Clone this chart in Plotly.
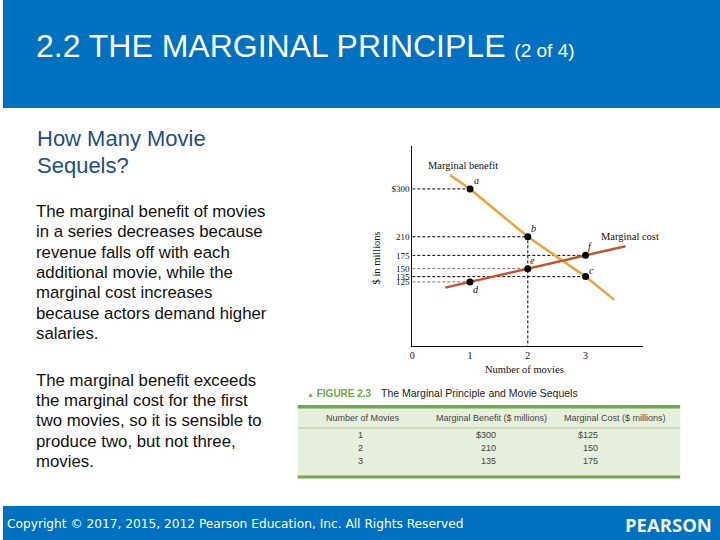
import plotly.graph_objects as go
import numpy as np

# ---------------- data ----------------
movies = [1, 2, 3]
marginal_benefit = [300, 210, 135]
marginal_cost = [125, 150, 175]
mb_point_labels = ["a", "b", "c"]
mc_point_labels = ["d", "e", "f"]
mb_line_extent = [0.655, 3.5]
mc_line_extent = [0.57, 3.69]
y_tick_values = [125, 135, 150, 175, 210, 300]
y_tick_text = ["125", "135", "150", "175", "210", "$300"]
x_tick_values = [0, 1, 2, 3]
x_tick_text = ["0", "1", "2", "3"]

table_header = ["Number of Movies", "Marginal Benefit ($ millions)", "Marginal Cost ($ millions)"]
table_movies = ["1", "2", "3"]
table_mb = ["$300", "210", "135"]
table_mc = ["$125", "150", "175"]

title_main = "2.2 THE MARGINAL PRINCIPLE"
title_sub = "(2 of 4)"
heading_lines = ["How Many Movie", "Sequels?"]
para1_lines = ["The marginal benefit of movies", "in a series decreases because",
               "revenue falls off with each", "additional movie, while the",
               "marginal cost increases", "because actors demand higher", "salaries."]
para2_lines = ["The marginal benefit exceeds", "the marginal cost for the first",
               "two movies, so it is sensible to", "produce two, but not three,",
               "movies."]
footer_text = "Copyright © 2017, 2015, 2012 Pearson Education, Inc. All Rights Reserved"
brand_text = "PEARSON"

# ---------------- helpers ----------------
W, H = 720, 540
def px(x):
    return x / W
def py(y):
    return 1 - y / H

BLUE = "#0070C0"
MB_COLOR = "#E9A53A"
MC_COLOR = "#C2552D"
GREEN = "#6FA84C"
SERIF = "Liberation Serif, Times New Roman, serif"
SANS = "Liberation Sans, Arial, sans-serif"

fig = go.Figure()

# dashed guide lines (horizontal from axis to each point; vertical at b)
guide_color = {"a": "#000", "b": "#000", "c": "#000", "d": "#777", "e": "#777", "f": "#000"}
for xs, ys, labs in [(movies, marginal_benefit, mb_point_labels), (movies, marginal_cost, mc_point_labels)]:
    for xv, yv, lab in zip(xs, ys, labs):
        fig.add_trace(go.Scatter(x=[0, xv], y=[yv, yv], mode="lines",
                                 line=dict(color=guide_color[lab], width=1, dash="3px,2px"),
                                 hoverinfo="skip", showlegend=False))
fig.add_trace(go.Scatter(x=[movies[1], movies[1]], y=[0, marginal_benefit[1]], mode="lines",
                         line=dict(color="#000", width=1, dash="3px,2px"),
                         hoverinfo="skip", showlegend=False))

# curves: extend through the points using a linear fit for the ends
def curve(xs, ys, ext):
    k, b = np.polyfit(xs, ys, 1)
    cx = [ext[0]] + list(xs) + [ext[1]]
    cy = [k * ext[0] + b] + list(ys) + [k * ext[1] + b]
    return cx, cy

mbx, mby = curve(movies, marginal_benefit, mb_line_extent)
mcx, mcy = curve(movies, marginal_cost, mc_line_extent)
fig.add_trace(go.Scatter(x=mbx, y=mby, mode="lines", line=dict(color=MB_COLOR, width=2.5),
                         showlegend=False, hoverinfo="skip"))
fig.add_trace(go.Scatter(x=mcx, y=mcy, mode="lines", line=dict(color=MC_COLOR, width=2.5),
                         showlegend=False, hoverinfo="skip"))
fig.add_trace(go.Scatter(x=movies + movies, y=marginal_benefit + marginal_cost, mode="markers",
                         marker=dict(color="black", size=7), showlegend=False, hoverinfo="skip"))

# point labels
offsets = {"a": (6, 8), "b": (6, 8), "c": (6, 6), "d": (6, -8), "e": (5, 8), "f": (4, 9)}
for xs, ys, labs in [(movies, marginal_benefit, mb_point_labels), (movies, marginal_cost, mc_point_labels)]:
    for xv, yv, lab in zip(xs, ys, labs):
        dx, dy = offsets[lab]
        fig.add_annotation(x=xv, y=yv, xref="x", yref="y", text="<i>%s</i>" % lab,
                           showarrow=False, xshift=dx, yshift=dy,
                           font=dict(family=SERIF, size=10, color="#111"))

# curve labels
fig.add_annotation(x=px(425), y=py(166), xref="paper", yref="paper", text="Marginal benefit",
                   showarrow=False, xanchor="left", yanchor="middle",
                   font=dict(family=SERIF, size=10.5, color="#111"))
fig.add_annotation(x=px(598), y=py(236), xref="paper", yref="paper", text="Marginal cost",
                   showarrow=False, xanchor="left", yanchor="middle",
                   font=dict(family=SERIF, size=10.5, color="#111"))
fig.add_annotation(x=px(524), y=py(369), xref="paper", yref="paper", text="Number of movies",
                   showarrow=False, xanchor="center", yanchor="middle",
                   font=dict(family=SERIF, size=10.5, color="#111"))
fig.add_annotation(x=px(375), y=py(258), xref="paper", yref="paper", text="$ in millions",
                   showarrow=False, textangle=-90, xanchor="center", yanchor="middle",
                   font=dict(family=SERIF, size=10.5, color="#111"))

fig.update_layout(
    xaxis=dict(domain=[px(411), px(643)], range=[0, 4.0], tickvals=x_tick_values, ticktext=x_tick_text,
               showgrid=False, zeroline=False, showline=True, linecolor="#111", linewidth=1,
               ticks="", tickfont=dict(family=SERIF, size=10, color="#111"), fixedrange=True),
    yaxis=dict(domain=[py(345.7), py(146.4)], range=[5, 380], tickvals=y_tick_values, ticktext=y_tick_text,
               showgrid=False, zeroline=False, showline=True, linecolor="#111", linewidth=1,
               ticks="", tickfont=dict(family=SERIF, size=9, color="#111"), fixedrange=True),
)

# ---------------- slide frame ----------------
shapes = []
shapes.append(dict(type="rect", xref="paper", yref="paper", x0=0, x1=1, y0=py(108), y1=1,
                   fillcolor=BLUE, line=dict(width=0), layer="below"))
shapes.append(dict(type="rect", xref="paper", yref="paper", x0=0, x1=1, y0=0, y1=py(506),
                   fillcolor=BLUE, line=dict(width=0), layer="below"))

# table shapes
tx0, tx1 = px(296), px(680)
shapes.append(dict(type="rect", xref="paper", yref="paper", x0=tx0, x1=tx1, y0=py(476), y1=py(408),
                   fillcolor="#E6EEDC", line=dict(width=0), layer="below"))
shapes.append(dict(type="rect", xref="paper", yref="paper", x0=tx0, x1=tx1, y0=py(408.5), y1=py(405),
                   fillcolor=GREEN, line=dict(width=0)))
shapes.append(dict(type="rect", xref="paper", yref="paper", x0=tx0, x1=tx1, y0=py(478.5), y1=py(475.5),
                   fillcolor=GREEN, line=dict(width=0)))
shapes.append(dict(type="line", xref="paper", yref="paper", x0=tx0, x1=tx1, y0=py(428), y1=py(428),
                   line=dict(color="#B9C9A8", width=1)))
fig.update_layout(shapes=shapes)

# title
fig.add_annotation(x=px(31), y=py(46), xref="paper", yref="paper",
                   text=title_main + " <span style='font-size:19px'>" + title_sub + "</span>",
                   showarrow=False, xanchor="left", yanchor="middle",
                   font=dict(family=SANS, size=32, color="white"))

# left column text
for i, line in enumerate(heading_lines):
    fig.add_annotation(x=px(32), y=py(138 + 27 * i), xref="paper", yref="paper", text=line,
                       showarrow=False, xanchor="left", yanchor="middle",
                       font=dict(family=SANS, size=22, color="#234F7C"))
for i, line in enumerate(para1_lines):
    fig.add_annotation(x=px(31.5), y=py(211.5 + 20.3 * i), xref="paper", yref="paper", text=line,
                       showarrow=False, xanchor="left", yanchor="middle",
                       font=dict(family=SANS, size=16.8, color="#111"))
for i, line in enumerate(para2_lines):
    fig.add_annotation(x=px(31.5), y=py(380 + 20.4 * i), xref="paper", yref="paper", text=line,
                       showarrow=False, xanchor="left", yanchor="middle",
                       font=dict(family=SANS, size=16.8, color="#111"))

# table caption
fig.add_annotation(x=px(303), y=py(393), xref="paper", yref="paper",
                   text="<span style='font-size:7px'>▲</span> <b>FIGURE 2.3</b>",
                   showarrow=False, xanchor="left", yanchor="middle",
                   font=dict(family=SANS, size=10, color=GREEN))
fig.add_annotation(x=px(378), y=py(393), xref="paper", yref="paper",
                   text="The Marginal Principle and Movie Sequels",
                   showarrow=False, xanchor="left", yanchor="middle",
                   font=dict(family=SANS, size=10.5, color="#222"))

# table text
header_x = [362, 491, 615]
for hx, htxt in zip(header_x, table_header):
    fig.add_annotation(x=px(hx), y=py(418), xref="paper", yref="paper", text=htxt,
                       showarrow=False, xanchor="center", yanchor="middle",
                       font=dict(family=SANS, size=9, color="#444"))
row_y = [435, 448, 461]
for ry, a, b, c in zip(row_y, table_movies, table_mb, table_mc):
    fig.add_annotation(x=px(359), y=py(ry), xref="paper", yref="paper", text=a, showarrow=False,
                       xanchor="center", yanchor="middle", font=dict(family=SANS, size=9, color="#444"))
    fig.add_annotation(x=px(497), y=py(ry), xref="paper", yref="paper", text=b, showarrow=False,
                       xanchor="right", yanchor="middle", font=dict(family=SANS, size=9, color="#444"))
    fig.add_annotation(x=px(599), y=py(ry), xref="paper", yref="paper", text=c, showarrow=False,
                       xanchor="right", yanchor="middle", font=dict(family=SANS, size=9, color="#444"))

# footer
fig.add_annotation(x=px(2), y=py(524), xref="paper", yref="paper", text=footer_text,
                   showarrow=False, xanchor="left", yanchor="middle",
                   font=dict(family="DejaVu Sans, Verdana, sans-serif", size=12.2, color="white"))
fig.add_annotation(x=px(714), y=py(524), xref="paper", yref="paper", text="<b>" + brand_text + "</b>",
                   showarrow=False, xanchor="right", yanchor="middle",
                   font=dict(family="Open Sans, sans-serif", size=18.5, color="#F2F2F2"))

fig.update_layout(width=W, height=H, margin=dict(l=0, r=0, t=0, b=0),
                  paper_bgcolor="white", plot_bgcolor="white", autosize=False, showlegend=False)

fig.write_html("out.html", config={"displayModeBar": False, "staticPlot": True},
               post_script="document.body.style.margin='0px';document.body.style.padding='0px';"
                           "document.documentElement.style.overflow='hidden';")
